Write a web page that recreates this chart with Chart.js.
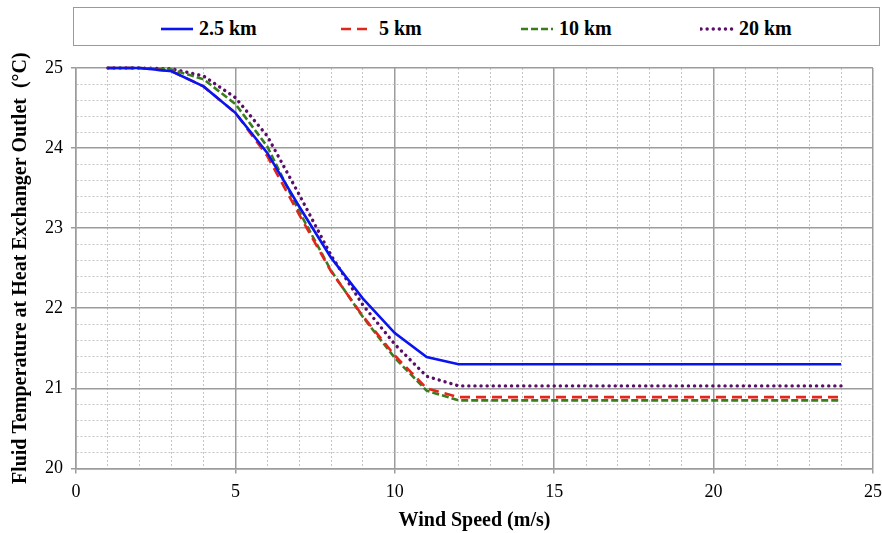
<!DOCTYPE html>
<html>
<head>
<meta charset="utf-8">
<script src="https://cdn.jsdelivr.net/npm/chart.js@4.4.1/dist/chart.umd.min.js"></script>
<style>
	html, body { margin: 0; padding: 0; background: #fff; }
	#wrap { position: relative; width: 882px; height: 533px; }
	#legend {
		position: absolute; left: 73px; top: 7px; width: 805px; height: 37px;
		border: 1px solid #9a9a9a; background: #fff;
		font-family: "Liberation Serif", "Times New Roman", serif;
		font-weight: bold; font-size: 20px; color: #000;
	}
	#legend .item { position: absolute; top: 9px; display: flex; align-items: center; }
	#legend svg { margin-right: 5px; }
</style>
</head>
<body>
<div id="wrap">
	<canvas id="chartTemp" width="882" height="533"></canvas>
	<div id="legend"></div>
</div>
<script>
// wind speed (m/s)
var windSpeed = [1, 2, 3, 4, 5, 6, 7, 8, 9, 10, 11, 12, 13, 14, 15, 16, 17, 18, 19, 20, 21, 22, 23, 24];

// outlet fluid temperature (°C) per pipe length
var temp25km = [25, 25, 24.96, 24.77, 24.44, 23.94, 23.27, 22.63, 22.12, 21.69, 21.39, 21.30,
	21.30, 21.30, 21.30, 21.30, 21.30, 21.30, 21.30, 21.30, 21.30, 21.30, 21.30, 21.30];
var temp5km = [25, 25, 24.96, 24.77, 24.44, 23.90, 23.17, 22.46, 21.90, 21.41, 21.00, 20.89,
	20.89, 20.89, 20.89, 20.89, 20.89, 20.89, 20.89, 20.89, 20.89, 20.89, 20.89, 20.89];
var temp10km = [25, 25, 24.98, 24.86, 24.55, 24.02, 23.21, 22.47, 21.89, 21.38, 20.97, 20.85,
	20.85, 20.85, 20.85, 20.85, 20.85, 20.85, 20.85, 20.85, 20.85, 20.85, 20.85, 20.85];
var temp20km = [25, 25, 24.99, 24.90, 24.63, 24.15, 23.42, 22.66, 22.04, 21.55, 21.15, 21.03,
	21.03, 21.03, 21.03, 21.03, 21.03, 21.03, 21.03, 21.03, 21.03, 21.03, 21.03, 21.03];

var seriesLabels = ["2.5 km", "5 km", "10 km", "20 km"];

var serif = "'Liberation Serif', 'Times New Roman', serif";

function toPoints(values) {
	return windSpeed.map(function (x, i) {
		return { x: x, y: values[i] };
	});
}

function isMajor(value, step) {
	var r = value / step;
	return Math.abs(r - Math.round(r)) < 1e-6;
}

var styles = [
	{ color: "#0a14f0", dash: [], width: 2.6, cap: "butt" },
	{ color: "#e2261b", dash: [10, 6], width: 2.6, cap: "butt" },
	{ color: "#3a7d1c", dash: [7, 3], width: 2.6, cap: "butt" },
	{ color: "#5a0d6a", dash: [0.1, 6], width: 3.4, cap: "round" },
];
var seriesData = [temp25km, temp5km, temp10km, temp20km];

var datasets = seriesData.map(function (values, i) {
	return {
		label: seriesLabels[i],
		data: toPoints(values),
		borderColor: styles[i].color,
		backgroundColor: styles[i].color,
		borderWidth: styles[i].width,
		borderDash: styles[i].dash,
		borderCapStyle: styles[i].cap,
		pointRadius: 0,
		tension: 0,
		clip: 6,
	};
});

// legend box above the plot
var legendEl = document.getElementById("legend");
var legendStart = 86;
var legendSlot = 180;
datasets.forEach(function (ds, i) {
	var item = document.createElement("div");
	item.className = "item";
	item.style.left = (legendStart + i * legendSlot) + "px";
	var st = styles[i];
	item.innerHTML =
		'<svg width="34" height="8"><line x1="1" y1="4" x2="33" y2="4" stroke="' + st.color +
		'" stroke-width="' + st.width + '" stroke-linecap="' + st.cap +
		'" stroke-dasharray="' + (st.dash.length ? st.dash.join(" ") : "none") + '"/></svg>' +
		'<span>' + ds.label + '</span>';
	legendEl.appendChild(item);
});

var ctx = document.getElementById("chartTemp").getContext("2d");

new Chart(ctx, {
	type: "line",
	data: { datasets: datasets },
	options: {
		responsive: false,
		animation: false,
		layout: { padding: { top: 68, right: 9, bottom: 2, left: 9 } },
		plugins: {
			legend: { display: false },
			tooltip: { enabled: false },
		},
		scales: {
			x: {
				type: "linear",
				min: 0,
				max: 25,
				// let the last label run into the right margin
				afterFit: function (scale) {
					scale.paddingRight = 0;
				},
				ticks: {
					stepSize: 1,
					autoSkip: false,
					maxRotation: 0,
					padding: 8,
					color: "#000",
					font: { family: serif, size: 18 },
					callback: function (v) {
						return isMajor(v, 5) ? String(v) : "";
					},
				},
				grid: {
					color: function (c) {
						return c.tick && isMajor(c.tick.value, 5) ? "#9c9c9c" : "#c4c4c4";
					},
					lineWidth: function (c) {
						return c.tick && isMajor(c.tick.value, 5) ? 1.5 : 1;
					},
					tickLength: 5,
					tickColor: function (c) {
						return c.tick && isMajor(c.tick.value, 5) ? "#9c9c9c" : "rgba(0,0,0,0)";
					},
				},
				border: {
					color: "#9c9c9c",
					width: 1.5,
					dash: function (c) {
						return c.tick && !isMajor(c.tick.value, 5) ? [2, 2] : [];
					},
				},
				title: {
					display: true,
					text: "Wind Speed (m/s)",
					color: "#000",
					font: { family: serif, size: 20, weight: "bold", lineHeight: 1 },
					padding: { top: 0, bottom: 0 },
				},
			},
			y: {
				type: "linear",
				min: 20,
				max: 25,
				ticks: {
					stepSize: 0.2,
					autoSkip: false,
					padding: 8,
					color: "#000",
					font: { family: serif, size: 18 },
					callback: function (v) {
						return isMajor(v, 1) ? String(Math.round(v)) : "";
					},
				},
				grid: {
					color: function (c) {
						return c.tick && isMajor(c.tick.value, 1) ? "#9c9c9c" : "#c4c4c4";
					},
					lineWidth: function (c) {
						return c.tick && isMajor(c.tick.value, 1) ? 1.5 : 1;
					},
					tickLength: 5,
					tickColor: function (c) {
						return c.tick && isMajor(c.tick.value, 1) ? "#9c9c9c" : "rgba(0,0,0,0)";
					},
				},
				border: {
					color: "#9c9c9c",
					width: 1.5,
					dash: function (c) {
						return c.tick && !isMajor(c.tick.value, 1) ? [2, 2] : [];
					},
				},
				title: {
					display: true,
					text: "Fluid Temperature at Heat Exchanger Outlet  (°C)",
					color: "#000",
					font: { family: serif, size: 20, weight: "bold" },
					padding: { top: 0, bottom: 4 },
				},
			},
		},
	},
});
</script>
</body>
</html>
